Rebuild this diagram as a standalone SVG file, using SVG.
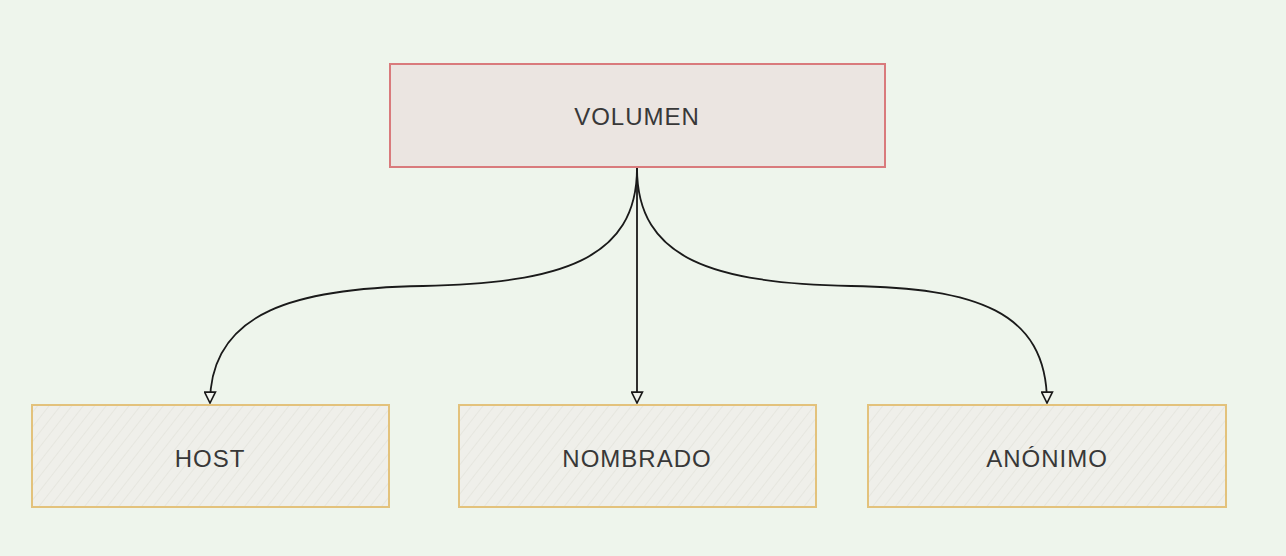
<svg xmlns="http://www.w3.org/2000/svg" width="1286" height="556" viewBox="0 0 1286 556">
<style>
.lbl{font-family:"Liberation Sans",Arial,sans-serif;font-size:24px;letter-spacing:1px;fill:#383838;text-anchor:middle;dominant-baseline:central}
.leaf{fill:url(#hatch);stroke:#e3c27c;stroke-width:2}
.edge{fill:none;stroke:#1a1a1a;stroke-width:1.8}
</style>
<defs>
<pattern id="hatch" patternUnits="userSpaceOnUse" width="9" height="9" patternTransform="rotate(38)">
<rect width="9" height="9" fill="#efefea"/>
<line x1="0" y1="0" x2="0" y2="9" stroke="#e0e0d9" stroke-width="1.2"/>
</pattern>
<marker id="arrd" viewBox="0 0 12 12" refX="11" refY="6" markerWidth="13" markerHeight="13" markerUnits="userSpaceOnUse" orient="auto">
<path d="M1,1 L11,6 L1,11 Z" fill="#f2f5ef" stroke="#1a1a1a" stroke-width="1.5"/>
</marker>
</defs>
<rect width="1286" height="556" fill="#eef5ec"/>
<g id="connectors">
<path class="edge" d="M637,168 C637,260 560,283 423,286 C300,288 210,310 210,403" marker-end="url(#arrd)"/>
<path class="edge" d="M637,168 L637,403" marker-end="url(#arrd)"/>
<path class="edge" d="M637,168 C637,260 714,283 851,286 C974,288 1047,310 1047,403" marker-end="url(#arrd)"/>
</g>
<g id="volumen">
<rect x="390" y="64" width="495" height="103" fill="#ebe5e1" stroke="#d97a7c" stroke-width="2"/>
<text class="lbl" x="637" y="116">VOLUMEN</text>
</g>
<g id="host">
<rect class="leaf" x="32" y="405" width="357" height="102"/>
<text class="lbl" x="210" y="458">HOST</text>
</g>
<g id="nombrado">
<rect class="leaf" x="459" y="405" width="357" height="102"/>
<text class="lbl" x="637" y="458">NOMBRADO</text>
</g>
<g id="anonimo">
<rect class="leaf" x="868" y="405" width="358" height="102"/>
<text class="lbl" x="1047" y="458">ANÓNIMO</text>
</g>
</svg>
